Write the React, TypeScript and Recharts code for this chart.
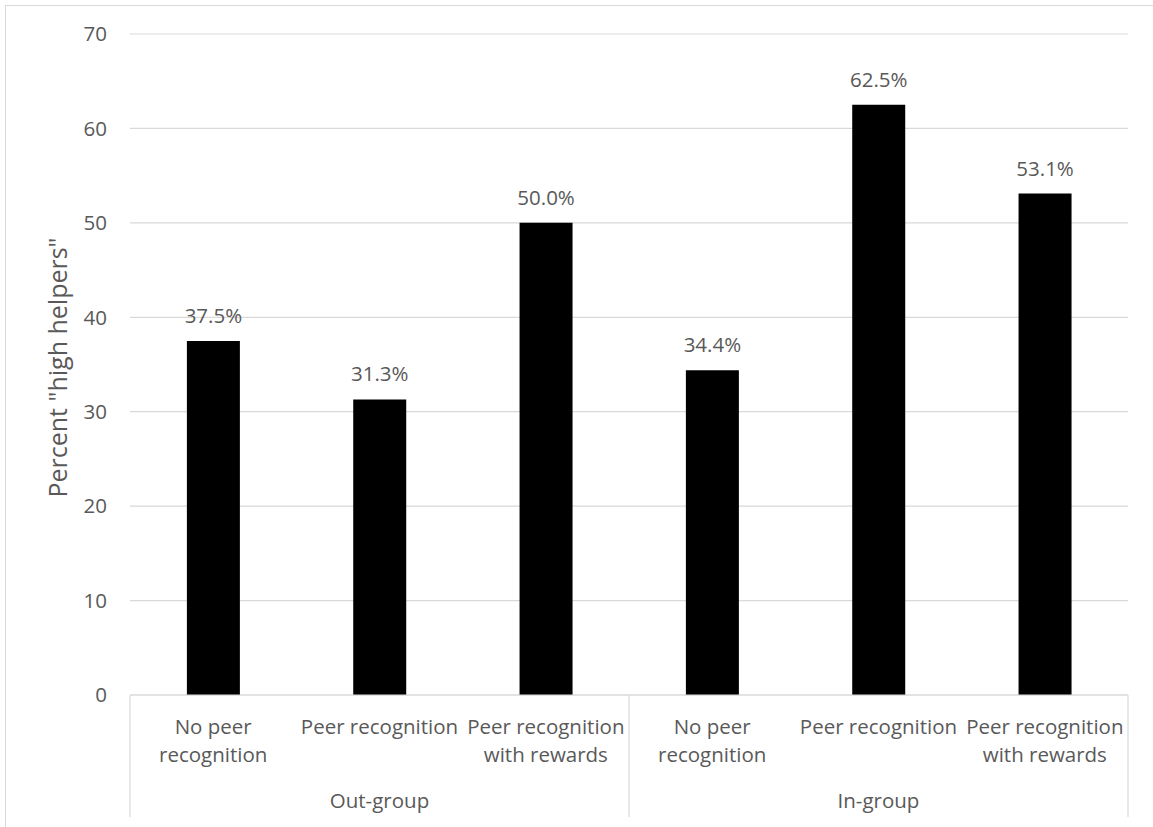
import React from "react";
import {
  BarChart,
  Bar,
  XAxis,
  YAxis,
  CartesianGrid,
  LabelList,
} from "recharts";

// Category labels (line breaks where the axis wraps them)
const categories = [
  "No peer\nrecognition",
  "Peer recognition",
  "Peer recognition\nwith rewards",
  "No peer\nrecognition",
  "Peer recognition",
  "Peer recognition\nwith rewards",
];

// Outer grouping of the categories
const groups = [
  "Out-group",
  "Out-group",
  "Out-group",
  "In-group",
  "In-group",
  "In-group",
];
const groupNames = ["Out-group", "In-group"];

// Share of "high helpers" per condition, in percent
const percentHighHelpers = [37.5, 31.3, 50.0, 34.4, 62.5, 53.1];

const yTicks = [0, 10, 20, 30, 40, 50, 60, 70];
const yTitle = 'Percent "high helpers"';

const data = categories.map((category, i) => ({
  id: i,
  category,
  group: groups[i],
  value: percentHighHelpers[i],
}));

const WIDTH = 1153;
const HEIGHT = 827;
const MARGIN = { top: 34, right: 25, bottom: 0, left: 0 };
const Y_AXIS_W = 130;
const CAT_AXIS_H = 90;
const GROUP_AXIS_H = 42;
const PLOT_W = WIDTH - MARGIN.left - MARGIN.right - Y_AXIS_W;

const FONT = '"Open Sans", "DejaVu Sans", sans-serif';
const TEXT = "#595959";
const LINE = "#d9d9d9";
const FS = 20.5;

function CategoryTick(props: any) {
  const { x, y, payload } = props;
  const lines = categories[payload.index].split("\n");
  return (
    <g>
      {lines.map((ln, k) => (
        <text
          key={k}
          x={x}
          y={y + 38.5 + k * 28}
          textAnchor="middle"
          fill={TEXT}
          fontSize={FS}
          fontFamily={FONT}
        >
          {ln}
        </text>
      ))}
    </g>
  );
}

function GroupTick(props: any) {
  const { x, y, payload } = props;
  const half = PLOT_W / groupNames.length / 2;
  const top = y - CAT_AXIS_H;
  const bottom = y + 32;
  const isLast = payload.index === groupNames.length - 1;
  return (
    <g>
      <line x1={x - half} x2={x - half} y1={top} y2={bottom} stroke={LINE} strokeWidth={1.2} />
      {isLast && (
        <line x1={x + half} x2={x + half} y1={top} y2={bottom} stroke={LINE} strokeWidth={1.2} />
      )}
      <text x={x} y={y + 23} textAnchor="middle" fill={TEXT} fontSize={FS} fontFamily={FONT}>
        {payload.value}
      </text>
    </g>
  );
}

function YTitle(props: any) {
  const vb = props.viewBox || { x: 0, y: MARGIN.top, width: Y_AXIS_W, height: 661 };
  const cx = vb.x + 67;
  const cy = vb.y + vb.height / 2 + 3;
  return (
    <text
      x={cx}
      y={cy}
      transform={`rotate(-90, ${cx}, ${cy})`}
      textAnchor="middle"
      fill={TEXT}
      fontSize={25}
      fontFamily={FONT}
    >
      {yTitle}
    </text>
  );
}

function ValueLabel(props: any) {
  const { x, y, width, value } = props;
  return (
    <text
      x={x + width / 2}
      y={y - 18}
      textAnchor="middle"
      fill={TEXT}
      fontSize={FS}
      fontFamily={FONT}
    >
      {`${Number(value).toFixed(1)}%`}
    </text>
  );
}

export default function App() {
  return (
    <div
      style={{
        position: "relative",
        width: WIDTH,
        height: HEIGHT,
        overflow: "hidden",
        background: "#fff",
        fontFamily: FONT,
      }}
    >
      <style>{`body{margin:0}`}</style>
      <div
        style={{
          position: "absolute",
          left: 5,
          top: 5,
          width: WIDTH + 40,
          height: HEIGHT + 40,
          border: `1px solid ${LINE}`,
        }}
      />
      <div style={{ position: "absolute", left: 0, top: 0 }}>
        <BarChart width={WIDTH} height={HEIGHT} data={data} margin={MARGIN} barCategoryGap="34.2%">
          <CartesianGrid vertical={false} stroke={LINE} strokeWidth={1.2} />
          <XAxis
            dataKey="id"
            height={CAT_AXIS_H}
            tickLine={false}
            tickSize={0}
            tickMargin={0}
            axisLine={{ stroke: LINE, strokeWidth: 1.2 }}
            tick={<CategoryTick />}
            interval={0}
          />
          <XAxis
            xAxisId="group"
            dataKey="group"
            allowDuplicatedCategory={false}
            height={GROUP_AXIS_H}
            tickLine={false}
            tickSize={0}
            tickMargin={0}
            axisLine={false}
            tick={<GroupTick />}
            interval={0}
          />
          <YAxis
            width={Y_AXIS_W}
            domain={[0, 70]}
            ticks={yTicks}
            interval={0}
            axisLine={false}
            tickLine={false}
            tickSize={0}
            tickMargin={23}
            tick={{ fill: TEXT, fontSize: FS, fontFamily: FONT }}
            label={<YTitle />}
          />
          <Bar dataKey="value" fill="#000000" isAnimationActive={false}>
            <LabelList dataKey="value" content={<ValueLabel />} />
          </Bar>
        </BarChart>
      </div>
    </div>
  );
}
